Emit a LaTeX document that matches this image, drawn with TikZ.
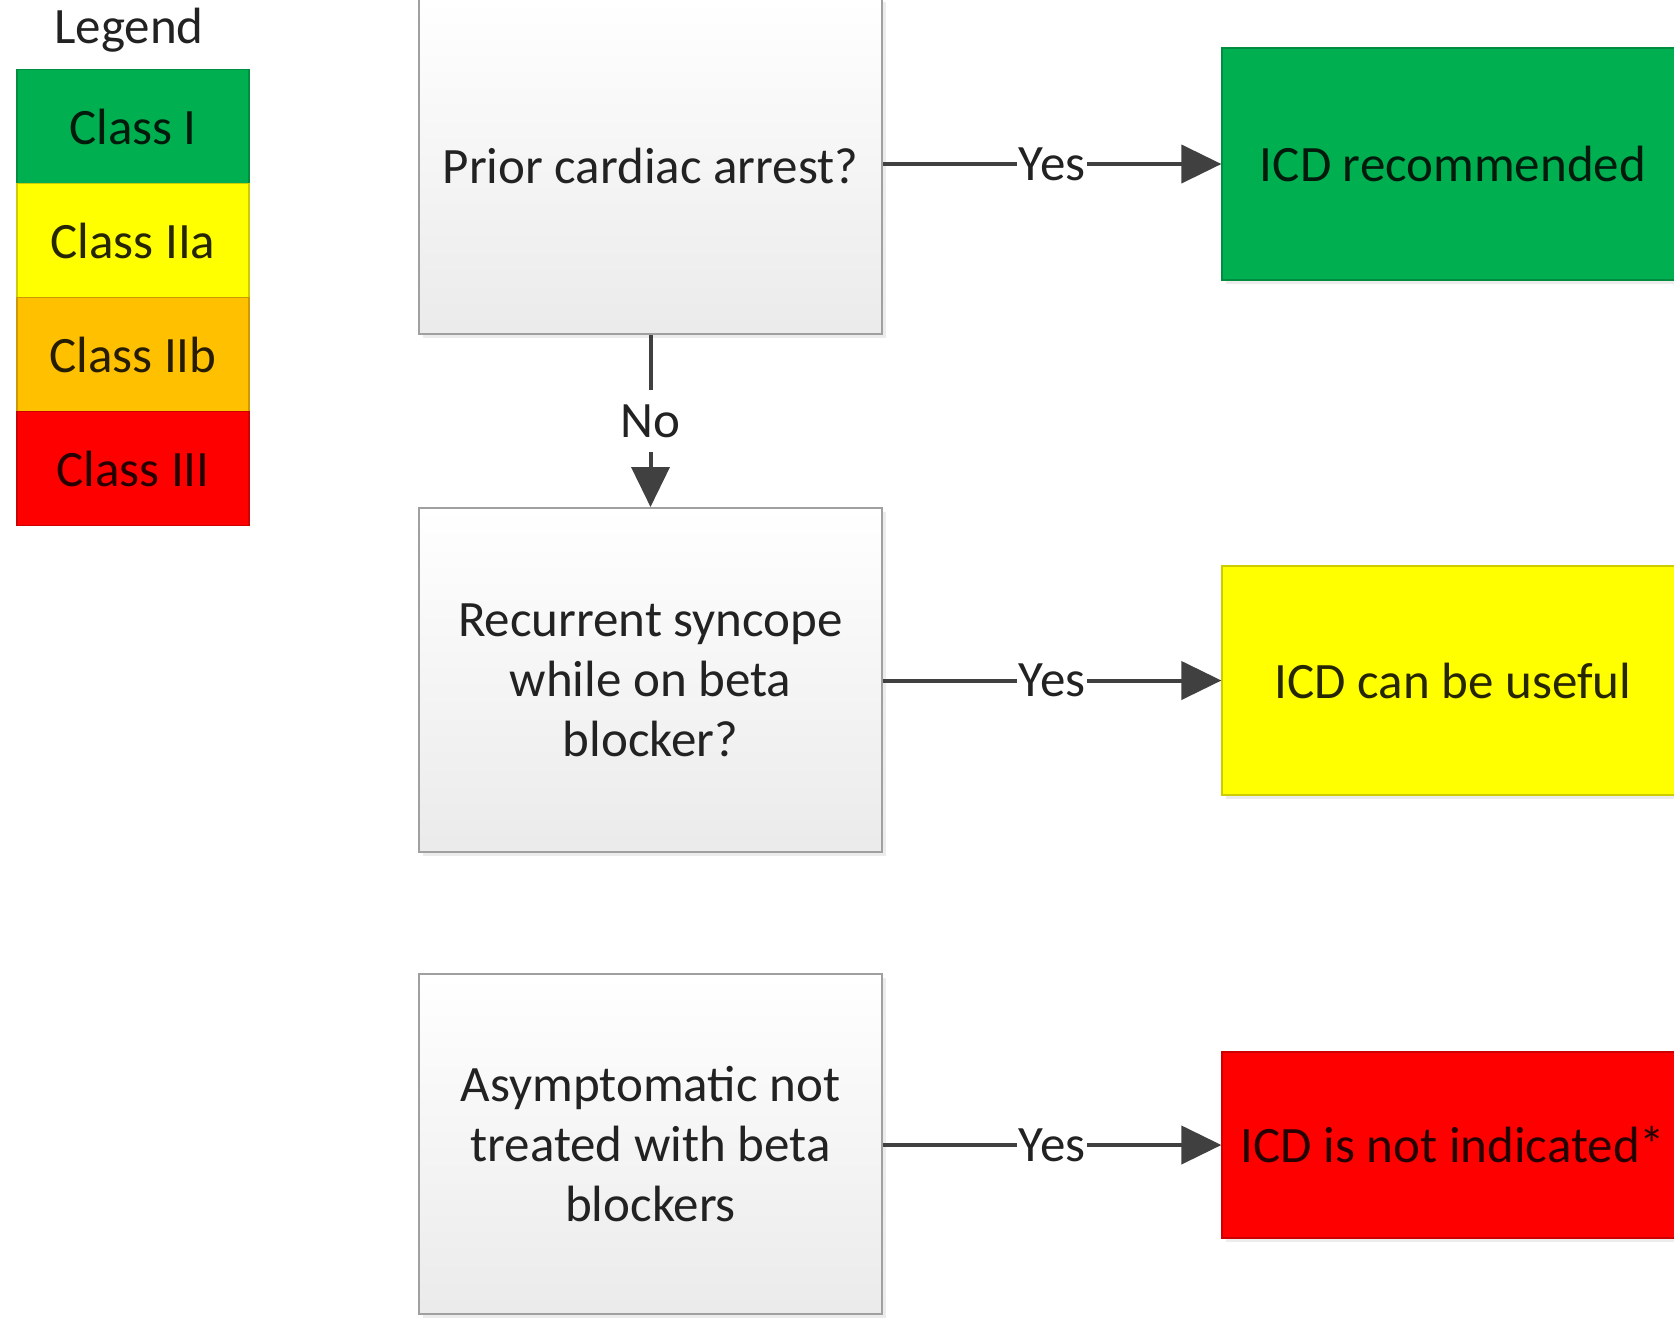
\documentclass[tikz,border=0pt]{standalone}
\usepackage{fontspec}
\setmainfont{Carlito}
\usetikzlibrary{arrows.meta,shadows}
\definecolor{cgreen}{HTML}{00B050}
\definecolor{cyellow}{HTML}{FFFF00}
\definecolor{corange}{HTML}{FFC000}
\definecolor{cred}{HTML}{FF0000}
\definecolor{boxgray}{HTML}{A0A0A0}
\definecolor{textdark}{HTML}{222222}
\definecolor{arrowgray}{HTML}{404040}
\begin{document}
\begin{tikzpicture}[x=0.5pt,y=-0.5pt,
  txt/.style={font=\fontsize{25.5}{30}\selectfont},
  qbox/.style={txt, draw=boxgray, line width=1pt, top color=white, bottom color=gray!16,
    minimum width=231.5pt, align=center, inner sep=0pt, text=textdark,
    drop shadow={shadow xshift=2pt,shadow yshift=-2pt,opacity=0.15}},
  abox/.style={txt, draw=#1!80!black, line width=0.6pt, fill=#1, text=black!85!#1,
    minimum width=231pt, inner sep=0pt,
    drop shadow={shadow xshift=2pt,shadow yshift=-2pt,opacity=0.15}},
  lcell/.style={txt, draw=#1!80!black, line width=0.6pt, fill=#1, text=black!85!#1,
    minimum width=116pt, minimum height=57pt, inner sep=0pt},
  conn/.style={draw=arrowgray, line width=2pt, -{Triangle[length=20pt,width=19pt]}},
  ylab/.style={txt, fill=white, inner xsep=1pt, inner ysep=2pt, text=textdark},
  nlab/.style={txt, fill=white, inner xsep=2pt, inner ysep=0pt, minimum height=31pt, text=textdark}
]
\useasboundingbox (0,0) rectangle (1674,1318);

% legend
\node[txt, text=textdark] (leg) at (129,30) {Legend};
\node[lcell=cgreen] (l1) at (133,126.5) {Class I};
\node[lcell=cyellow] (l2) at (133,240.5) {Class IIa};
\node[lcell=corange] (l3) at (133,354.5) {Class IIb};
\node[lcell=cred] (l4) at (133,468.5) {Class III};

% question boxes
\node[qbox, minimum height=168pt] (b1) at (650.5,166) {Prior cardiac arrest?};
\node[qbox, minimum height=172pt] (b2) at (650.5,680) {Recurrent syncope\\while on beta\\blocker?};
\node[qbox, minimum height=170pt] (b3) at (650.5,1144) {Asymptomatic not\\treated with beta\\blockers};

% outcome boxes
\node[abox=cgreen, minimum height=116pt] (g) at (1453,164) {ICD recommended};
\node[abox=cyellow, minimum height=114.5pt] (y) at (1453,680.5) {ICD can be useful};
\node[abox=cred, minimum height=93pt] (r) at (1453,1145) {ICD is not indicated*};

% connectors
\draw[conn] (g.west -| b1.east) -- node[ylab] {Yes} (g.west);
\draw[conn] (y.west -| b2.east) -- node[ylab] {Yes} (y.west);
\draw[conn] (r.west -| b3.east) -- node[ylab] {Yes} (r.west);
\draw[conn] (b1.south) -- node[nlab] {No} (b2.north);
\end{tikzpicture}
\end{document}
